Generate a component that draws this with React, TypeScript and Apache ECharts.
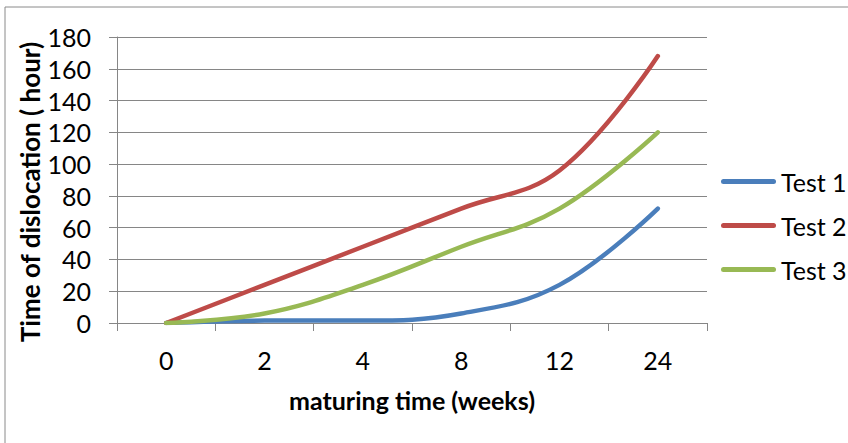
import React, { useEffect, useRef } from "react";
import * as echarts from "echarts";

const categories = ["0", "2", "4", "8", "12", "24"];
const test1 = [0, 1.5, 1.5, 6, 24, 72];
const test2 = [0, 24, 48, 72, 96, 168];
const test3 = [0, 6, 24, 48, 72, 120];
const seriesNames = ["Test 1", "Test 2", "Test 3"];
const colors = ["#4A7EBB", "#BE4B48", "#98B954"];

const FONT = "Lato";
const GRID = "#868686";

export default function App() {
  const ref = useRef<HTMLDivElement>(null);
  useEffect(() => {
    if (!ref.current) return;
    const chart = echarts.init(ref.current, undefined, { renderer: "svg" });
    const capsule = "path://M2.5,0 L52.5,0 A2.5,2.5 0 0 1 52.5,5 L2.5,5 A2.5,2.5 0 0 1 2.5,0 Z";
    chart.setOption({
      animation: false,
      backgroundColor: "#ffffff",
      color: colors,
      textStyle: { fontFamily: FONT },
      grid: { left: 117, right: 141, top: 37, bottom: 120, containLabel: false },
      graphic: [
        {
          type: "rect",
          shape: { x: 5, y: 7, width: 900, height: 500 },
          style: { fill: "none", stroke: "#8a8a8a", lineWidth: 1 },
          silent: true,
        },
        {
          type: "text",
          x: 30,
          y: 192,
          rotation: Math.PI / 2,
          style: {
            text: "Time of dislocation ( hour)",
            font: `bold 26px ${FONT}`,
            fill: "#000",
            align: "center",
            verticalAlign: "middle",
          },
        },
        {
          type: "text",
          x: 412,
          y: 400,
          style: {
            text: "maturing time (weeks)",
            font: `bold 25px ${FONT}`,
            fill: "#000",
            align: "center",
            verticalAlign: "middle",
          },
        },
      ],
      legend: {
        orient: "vertical",
        left: 716,
        top: 164,
        width: 130,
        itemWidth: 55,
        itemHeight: 5,
        itemGap: 19,
        icon: capsule,
        data: seriesNames,
        textStyle: { fontFamily: FONT, fontSize: 25, color: "#000", overflow: "none" },
      },
      xAxis: {
        type: "category",
        data: categories,
        boundaryGap: true,
        axisLine: { show: true, lineStyle: { color: GRID, width: 1 } },
        axisTick: { show: true, length: 8, alignWithLabel: false, lineStyle: { color: GRID } },
        axisLabel: { fontFamily: FONT, fontSize: 25, color: "#000", margin: 24 },
        splitLine: { show: false },
      },
      yAxis: {
        type: "value",
        min: 0,
        max: 180,
        interval: 20,
        axisLine: { show: true, lineStyle: { color: GRID, width: 1 } },
        axisTick: { show: true, length: 8, lineStyle: { color: GRID } },
        axisLabel: { fontFamily: FONT, fontSize: 25, color: "#000", margin: 26 },
        splitLine: { show: true, lineStyle: { color: GRID, width: 1 } },
      },
      series: [test1, test2, test3].map((d, i) => ({
        name: seriesNames[i],
        type: "line",
        data: d,
        smooth: 0.4,
        showSymbol: false,
        symbol: "none",
        lineStyle: { width: 4.5, color: colors[i], cap: "round" },
        itemStyle: { color: colors[i] },
      })),
    });
    return () => chart.dispose();
  }, []);
  return (
    <div
      ref={ref}
      style={{ position: "fixed", left: 0, top: 0, width: 848, height: 443 }}
    />
  );
}
